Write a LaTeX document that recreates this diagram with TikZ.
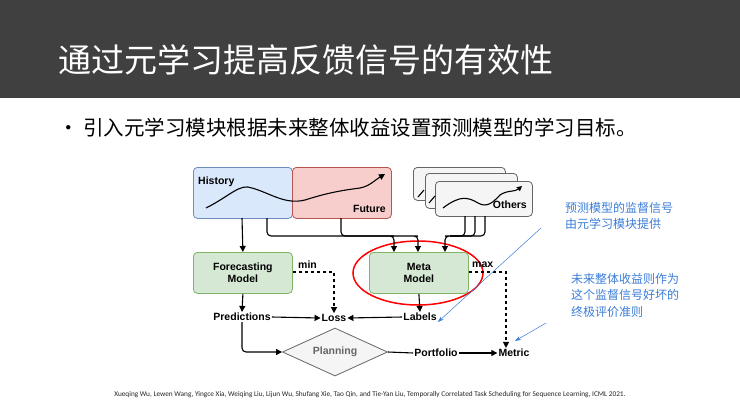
\documentclass[tikz,border=0pt]{standalone}
\usepackage{fontspec}
\setmainfont{Liberation Sans}
\newfontfamily\cjk{Noto Sans CJK SC}
\newfontfamily\cjkl{Noto Sans CJK SC}
\newfontfamily\carl{Carlito}
\usetikzlibrary{shapes.geometric,arrows.meta}
\definecolor{bar}{HTML}{404040}
\definecolor{bfill}{HTML}{DAE8FC}\definecolor{bline}{HTML}{6C8EBF}
\definecolor{rfill}{HTML}{F8CECC}\definecolor{rline}{HTML}{B85450}
\definecolor{gfill}{HTML}{D5E8D4}\definecolor{gline}{HTML}{82B366}
\definecolor{ofill}{HTML}{F5F5F5}\definecolor{oline}{HTML}{666666}
\definecolor{note}{HTML}{3B7DD8}
\begin{document}
\begin{tikzpicture}[x=1pt,y=-1pt,
  box/.style={draw,rounded corners=4pt,line width=0.8pt,minimum width=99pt,minimum height=41pt,anchor=north west,inner sep=0pt},
  lbl/.style={font=\fontsize{10.5}{12}\selectfont\bfseries,inner sep=1pt},
  arr/.style={-{Triangle[length=6pt,width=6pt]},line width=1.1pt},
  dsh/.style={arr,dashed},
  notetxt/.style={text=note,font=\cjk\fontsize{12}{16.5}\selectfont,align=left,anchor=north west,inner sep=0pt}]
\useasboundingbox (0,0) rectangle (740,416);
\fill[white] (0,0) rectangle (740,416);
\fill[bar] (0,0) rectangle (740,98);
\node[anchor=west,text=white,font=\cjkl\fontsize{33}{35}\selectfont,inner sep=0pt] (title) at (58,60) {通过元学习提高反馈信号的有效性};
\node[anchor=west,font=\cjk\fontsize{20.5}{23}\selectfont,inner sep=0pt] (bullet) at (58,128) {• 引入元学习模块根据未来整体收益设置预测模型的学习目标。};
% top boxes
\node[box,fill=bfill,draw=bline,minimum height=51pt] (hist) at (193,167) {};
\node[box,fill=rfill,draw=rline,minimum height=51pt] (fut) at (292,167) {};
\node[lbl,anchor=north west] (histl) at (197,176) {History};
\node[lbl,anchor=south east] (futl) at (387,214) {Future};
\node[box,fill=ofill,draw=oline,minimum width=92pt,minimum height=33pt] (o1) at (413,167) {};
\node[box,fill=ofill,draw=oline,minimum width=92pt,minimum height=35pt] (o2) at (425,173) {};
\node[box,fill=ofill,draw=oline,minimum width=97pt,minimum height=35pt] (o3) at (435,181) {};
\node[lbl,anchor=south east] (othl) at (528,210) {Others};
\draw[line width=1.1pt] (418,197) -- (424,190);
\draw[line width=1.1pt] (429,203) -- (435,196);
\draw[line width=1.1pt,-{Triangle[length=5pt,width=5pt]}] (443,208) .. controls (460,195) and (468,197) .. (478,203) .. controls (488,209) and (495,200) .. (500,195) .. controls (507,190) and (515,192) .. (522,186);
\draw[line width=1.1pt,-{Triangle[length=6pt,width=6pt]}] (206,208) .. controls (230,196) and (240,183) .. (252,188) .. controls (270,193) and (285,205) .. (305,200) .. controls (330,192) and (345,190) .. (360,188) .. controls (370,186) and (375,180) .. (385,174);
% models
\node[box,fill=gfill,draw=gline,align=center] (fm) at (193,252) {};
\node[lbl,align=center] (fml) at (fm.center) {Forecasting\\Model};
\node[box,fill=gfill,draw=gline,align=center] (mm) at (369,252) {};
\node[lbl,align=center] (mml) at (mm.center) {Meta\\Model};
\draw[red,line width=1.5pt] (418,273) ellipse (65pt and 32pt);
% labels
\node[lbl] (pred) at (242,317) {Predictions};
\node[lbl] (loss) at (334,318) {Loss};
\node[lbl] (labs) at (420,317) {Labels};
\node[lbl] (metric) at (514,353) {Metric};
\node[lbl] (port) at (436,353) {Portfolio};
\node[diamond,draw=oline,fill=ofill,line width=0.8pt,minimum width=105pt,minimum height=48pt,inner sep=0pt,aspect=2.2] (plan) at (335,352) {};
\node[lbl,text=oline] (planl) at (plan.center) {Planning};
\node[lbl,anchor=west] (minl) at (297,265) {min};
\node[lbl,anchor=west] (maxl) at (471,265) {max};
% arrows
\draw[arr] (242,218) -- (fm.north);
\coordinate (mx1) at (394,252);\coordinate (mx2) at (418,252);\coordinate (mx3) at (445,252);
\draw[arr,rounded corners=4pt] (267,218) |- (390,236) -| (mx1);
\draw[arr,rounded corners=4pt] (341,218) |- (414,236) -| (mx2);
\draw[arr,rounded corners=4pt] (465,216) |- (449,236) -| (mx3);
\draw[line width=1.1pt,rounded corners=4pt] (475,216) |- (450,236);
\draw[line width=1.1pt,rounded corners=4pt] (485,216) |- (450,236);
\draw[dsh] (fm.east |- 0,272) -| (loss.north);
\draw[dsh] (mm.east |- 0,272) -| (metric.north -| 506,0);
\draw[arr] (fm.south) -- (pred.north);
\draw[arr] (mm.south) -- (labs.north);
\draw[arr] (pred.east) -- (loss.west);
\draw[arr] (labs.west) -- (loss.east);
\draw[arr,rounded corners=4pt] (pred.south) |- (plan.west);
\draw[line width=1.1pt] (plan.east) -- (port.west);
\draw[arr] (port.east) -- (metric.west);
% notes
\node[notetxt] (n1) at (565,202) {预测模型的监督信号\\由元学习模块提供};
\node[notetxt] (n2) at (571,273) {未来整体收益则作为\\这个监督信号好坏的\\终极评价准则};
\draw[note,line width=0.5pt,-{Stealth[length=6pt,width=4pt]}] (541,228) -- (labs.south east);
\draw[note,line width=0.5pt,-{Stealth[length=6pt,width=4pt]}] (546,323) -- (515,341);
\node[font=\carl\fontsize{7.3}{8}\selectfont,text=black!85] (cite) at (370,395) {Xueqing Wu, Lewen Wang, Yingce Xia, Weiqing Liu, Lijun Wu, Shufang Xie, Tao Qin, and Tie-Yan Liu, Temporally Correlated Task Scheduling for Sequence Learning, ICML 2021.};
\end{tikzpicture}
\end{document}
